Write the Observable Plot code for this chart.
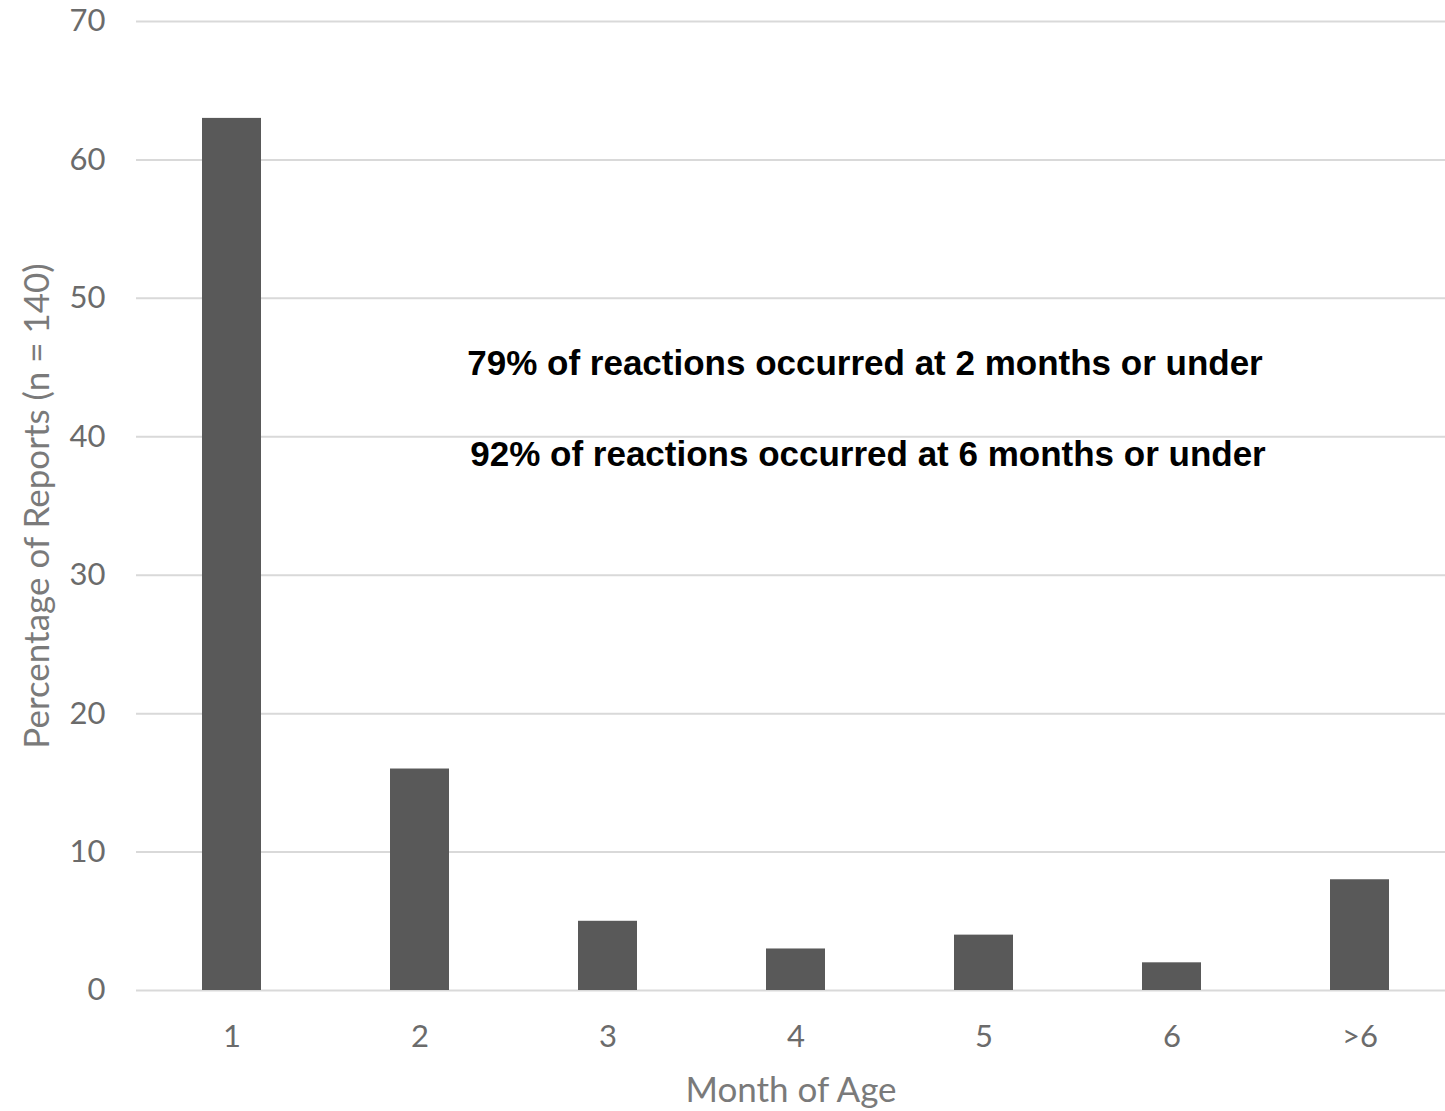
<!DOCTYPE html>
<html>
<head>
<meta charset="utf-8">
<script src="https://cdn.jsdelivr.net/npm/d3@7"></script>
<script src="https://cdn.jsdelivr.net/npm/@observablehq/plot@0.6"></script>
<style>
  html, body { margin: 0; padding: 0; background: #fff; }
  #chart svg { display: block; }
  #chart svg g[aria-label="y-axis label"] text, #chart svg g[aria-label="x-axis label"] text { font-size: 35px; fill: #7a7a7a; }
</style>
</head>
<body>
<div id="chart"></div>
<script>
const months = ["1", "2", "3", "4", "5", "6", ">6"];
const percentages = [63, 16, 5, 3, 4, 2, 8];
const yTicks = [0, 10, 20, 30, 40, 50, 60, 70];
const notes = [
  "79% of reactions occurred at 2 months or under",
  "92% of reactions occurred at 6 months or under"
];
const noteY = [45.3, 38.7];
const noteAnchorMonth = ["4", "4"];
const noteShift = [69, 72];

const data = months.map((m, i) => ({month: m, pct: percentages[i]}));

const gray = "#595959";
const noteMarks = notes.map((t, i) =>
  Plot.text([{text: t, y: noteY[i], month: noteAnchorMonth[i]}], {
    x: "month", y: "y", text: "text", dx: noteShift[i], fontSize: 35, fontWeight: "bold",
    fontFamily: "'Liberation Sans', Arial, sans-serif", fill: "#000", textAnchor: "middle"
  })
);

const chart = Plot.plot({
  width: 1445,
  height: 1111,
  marginTop: 21,
  marginBottom: 121,
  marginLeft: 136,
  marginRight: 0,
  style: {fontFamily: "Lato, sans-serif", background: "#fff", overflow: "visible"},
  x: {domain: months, range: [135, 1456], paddingInner: 0.685, paddingOuter: 0.3425},
  y: {domain: [0, 70], range: [990, 21]},
  marks: [
    Plot.ruleY(yTicks, {stroke: "#d9d9d9", strokeWidth: 2}),
    Plot.barY(data, {x: "month", y: "pct", fill: gray}),
    Plot.axisY({ticks: yTicks, tickSize: 0, tickPadding: 31, fontSize: 31, color: "#6b6b6b",
      label: "Percentage of Reports (n = 140)", labelAnchor: "center", labelArrow: false, labelOffset: 112}),
    Plot.axisX({tickSize: 0, tickPadding: 34, fontSize: 31, color: "#6b6b6b",
      label: "Month of Age", labelAnchor: "center", labelArrow: false, labelOffset: 111}),
    ...noteMarks
  ]
});
document.getElementById("chart").appendChild(chart);
</script>
</body>
</html>
